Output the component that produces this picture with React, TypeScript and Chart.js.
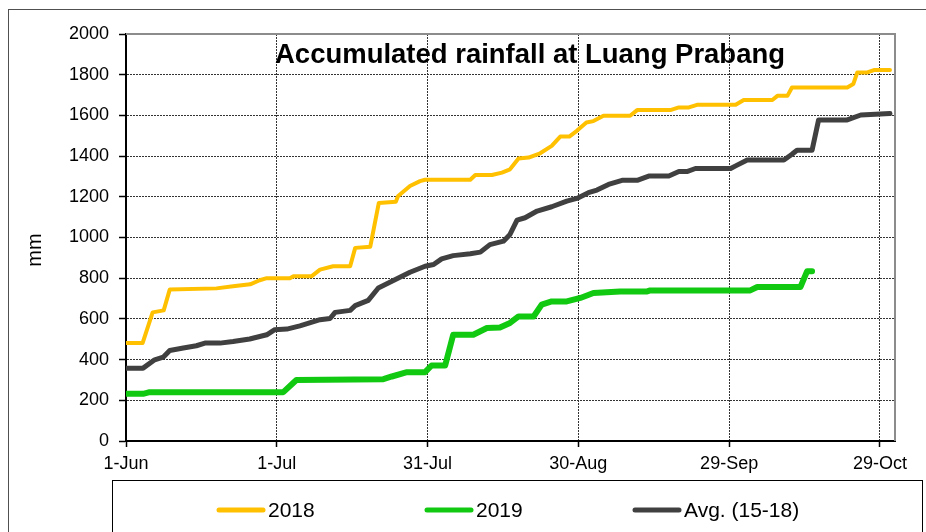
import React, { useEffect, useRef } from "react";
import { Chart, registerables } from "chart.js";

Chart.register(...registerables);

// Days counted from 1-Jun (day 0)
const xTickDays = [0, 30, 60, 90, 120, 150];
const xTickLabels = ["1-Jun", "1-Jul", "31-Jul", "30-Aug", "29-Sep", "29-Oct"];

const seriesNames = ["2018", "2019", "Avg. (15-18)"];

const days2018 = [0, 3.3, 5.3, 7.5, 8.7, 18, 21.3, 24.7, 26.6, 28, 32.6, 33.3, 36.9, 38.6, 41.2, 44.6, 45.6, 48.6, 50.3, 53.7, 54.1, 56.5, 58.5, 59.5, 68.5, 69.5, 72.8, 74.8, 76.4, 78.1, 80.1, 82.4, 84.7, 86.4, 88.2, 89.7, 91.6, 93, 95, 100.3, 101.7, 108.3, 110, 112, 113.6, 121.3, 122.9, 128.6, 129.6, 131.6, 132.5, 143.5, 144.7, 145.5, 147.5, 148.8, 152];
const mm2018 = [481, 481, 632, 642, 744, 750, 760, 770, 790, 800, 800, 809, 809, 842, 859, 859, 949, 955, 1170, 1176, 1203, 1253, 1277, 1284, 1284, 1307, 1307, 1319, 1335, 1388, 1393, 1414, 1450, 1496, 1496, 1524, 1565, 1572, 1598, 1598, 1626, 1626, 1639, 1639, 1652, 1652, 1676, 1676, 1696, 1696, 1737, 1737, 1754, 1811, 1811, 1823, 1823];

const days2019 = [0, 3.4, 4.7, 31.3, 33.9, 51.2, 52.9, 55.9, 59.5, 60.8, 63.5, 65.1, 69.1, 71.8, 74.4, 76.4, 78.1, 81.1, 82.7, 84.7, 87.7, 90.4, 93, 98.3, 103.7, 104.3, 124.2, 125.6, 134.2, 135.5, 136.5];
const mm2019 = [232, 232, 240, 240, 300, 304, 317, 338, 338, 371, 371, 522, 522, 555, 558, 580, 612, 612, 670, 686, 686, 703, 727, 735, 735, 740, 740, 757, 757, 834, 834];

const daysAvg = [0, 3.4, 5.7, 7.4, 8.7, 11.4, 14, 15.7, 18.7, 21.3, 24.6, 28, 29.6, 32, 34.6, 38.6, 40.6, 41.6, 44.6, 45.6, 48.2, 50.2, 52.5, 56.5, 59.5, 61.2, 62.8, 65.1, 68.5, 70.5, 72.4, 75.1, 76.4, 77.8, 79.4, 81.8, 84.7, 87.7, 89.7, 92, 93.7, 96, 98.7, 101.7, 104, 108, 110, 111.6, 113.3, 120.3, 121.3, 123.6, 130.9, 132.5, 133.5, 136.5, 137.8, 143.5, 146.2, 152];
const mmAvg = [358, 358, 399, 412, 445, 457, 468, 481, 481, 489, 501, 522, 547, 550, 566, 596, 602, 632, 642, 665, 691, 752, 780, 829, 859, 867, 895, 911, 920, 928, 965, 982, 1015, 1085, 1097, 1130, 1151, 1179, 1192, 1220, 1233, 1261, 1281, 1281, 1302, 1302, 1324, 1324, 1339, 1339, 1352, 1381, 1381, 1409, 1429, 1429, 1578, 1578, 1602, 1609];

const yMin = 0;
const yMax = 2000;
const yStep = 200;
const xMax = 153;

const titleText = "Accumulated rainfall at Luang Prabang";
const yTitle = "mm";

const colors = ["#FFC000", "#12C912", "#404040"];
const widths = [4, 6, 5];

const FONT = "'Liberation Sans', Arial, sans-serif";

const toPts = (xs: number[], ys: number[]) => xs.map((x, i) => ({ x, y: ys[i] }));

const decorPlugin = {
  id: "decor",
  beforeDraw(chart: any) {
    const ctx = chart.ctx;
    ctx.save();
    ctx.fillStyle = "#fff";
    ctx.fillRect(0, 0, chart.width, chart.height);
    ctx.strokeStyle = "#505050";
    ctx.lineWidth = 1;
    ctx.strokeRect(8.5, 9.5, 1000, 1000);
    ctx.restore();
  },
  beforeDatasetsDraw(chart: any) {
    const ctx = chart.ctx;
    const a = chart.chartArea;
    ctx.save();
    ctx.strokeStyle = "#8c8c8c";
    ctx.lineWidth = 2;
    ctx.beginPath();
    ctx.moveTo(a.left, a.top);
    ctx.lineTo(a.right, a.top);
    ctx.lineTo(a.right, a.bottom);
    ctx.stroke();
    // title inside plot
    ctx.fillStyle = "#000";
    ctx.font = `bold 27px ${FONT}`;
    ctx.textBaseline = "alphabetic";
    const w = ctx.measureText(titleText).width;
    const target = 510;
    ctx.translate(275, 63);
    ctx.scale(target / w, 1);
    ctx.fillText(titleText, 0, 0);
    ctx.restore();
  },
  afterDraw(chart: any) {
    const ctx = chart.ctx;
    ctx.save();
    // y axis title
    ctx.fillStyle = "#000";
    ctx.font = `20px ${FONT}`;
    ctx.textAlign = "center";
    ctx.textBaseline = "middle";
    ctx.translate(35, 250);
    ctx.rotate(-Math.PI / 2);
    ctx.fillText(yTitle, 0, 0);
    ctx.restore();

    // legend box
    ctx.save();
    ctx.strokeStyle = "#000";
    ctx.lineWidth = 1;
    ctx.strokeRect(112.5, 480.5, 810, 200);
    const xs = [217, 425, 633];
    const ly = 510;
    chart.data.datasets.forEach((ds: any, i: number) => {
      ctx.strokeStyle = ds.borderColor;
      ctx.lineWidth = 5;
      ctx.lineCap = "round";
      ctx.beginPath();
      ctx.moveTo(xs[i] + 2, ly);
      ctx.lineTo(xs[i] + 46, ly);
      ctx.stroke();
      ctx.fillStyle = "#000";
      ctx.font = `21px ${FONT}`;
      ctx.textBaseline = "middle";
      ctx.textAlign = "left";
      ctx.fillText(ds.label, xs[i] + 51, ly + 1);
    });
    ctx.restore();
  },
};

export default function App() {
  const ref = useRef<HTMLCanvasElement | null>(null);
  useEffect(() => {
    document.body.style.margin = "0";
    const canvas = ref.current!;
    const chart = new Chart(canvas, {
      type: "line",
      data: {
        datasets: [
          { label: seriesNames[0], data: toPts(days2018, mm2018) },
          { label: seriesNames[1], data: toPts(days2019, mm2019) },
          { label: seriesNames[2], data: toPts(daysAvg, mmAvg) },
        ].map((d, i) => ({
          ...d,
          borderColor: colors[i],
          backgroundColor: colors[i],
          borderWidth: widths[i],
          pointRadius: 0,
          tension: 0,
          fill: false,
          borderCapStyle: "round" as const,
          borderJoinStyle: "round" as const,
        })),
      },
      options: {
        responsive: false,
        animation: false,
        devicePixelRatio: 1,
        layout: { padding: { top: 34, right: 31, left: 0, bottom: 0 } },
        plugins: {
          legend: { display: false },
          title: { display: false },
          tooltip: { enabled: false },
        },
        scales: {
          x: {
            type: "linear",
            min: 0,
            max: xMax,
            afterBuildTicks: (s: any) => {
              s.ticks = xTickDays.map((v) => ({ value: v }));
            },
            afterFit: (s: any) => {
              s.height = 91;
            },
            ticks: {
              autoSkip: false,
              maxRotation: 0,
              color: "#000",
              font: { family: FONT, size: 18 },
              padding: 6,
              callback: (_v: any, i: number) => xTickLabels[i],
            },
            grid: {
              color: "#333",
              lineWidth: 1,
              tickLength: 6,
              tickColor: "#000",
              tickBorderDash: [],
              tickWidth: 1.5,
            } as any,
            border: { color: "#000", width: 2, dash: [2, 1] },
          },
          y: {
            min: yMin,
            max: yMax,
            afterFit: (s: any) => {
              s.width = 126;
            },
            ticks: {
              stepSize: yStep,
              color: "#000",
              font: { family: FONT, size: 18 },
              padding: 10,
              callback: (v: any) => String(v),
            },
            grid: {
              color: "#333",
              lineWidth: 1,
              tickLength: 7,
              tickColor: "#000",
              tickBorderDash: [],
              tickWidth: 1.5,
            } as any,
            border: { color: "#000", width: 2, dash: [2, 1] },
          },
        },
      },
      plugins: [decorPlugin],
    });
    return () => chart.destroy();
  }, []);
  return <canvas ref={ref} width={926} height={532} style={{ width: 926, height: 532, display: "block" }} />;
}
